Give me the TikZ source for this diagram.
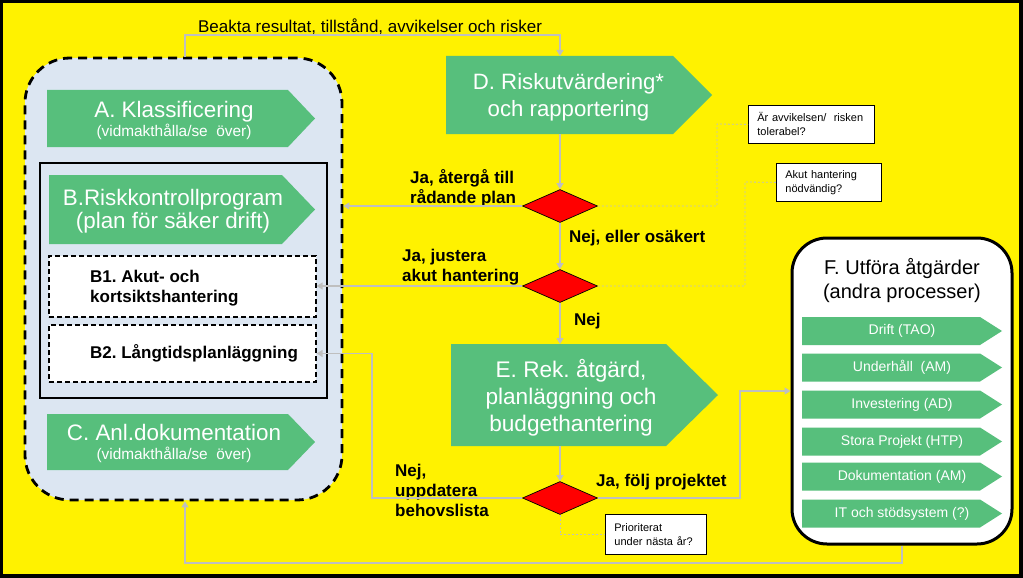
\documentclass[tikz,border=0pt]{standalone}
\usepackage{fontspec}
\setmainfont{Liberation Sans}
\usetikzlibrary{arrows.meta,shapes.geometric}
\definecolor{chevgreen}{HTML}{57BF7C}
\definecolor{planblue}{HTML}{DCE6F2}
\definecolor{flowgray}{HTML}{BFBFBF}
\frenchspacing
\newcommand*\fsz[2]{\fontsize{#1}{#2}\selectfont}
\newcommand*\chev[5]{\fill[chevgreen] (#1,#2) -- (#3,#2) -- (#5,{(#2+#4)/2}) -- (#3,#4) -- (#1,#4) -- cycle;}

\begin{document}
\begin{tikzpicture}[x=1pt,y=-1pt,
  flow/.style={flowgray,line width=1.4pt,-{Triangle[length=6pt,width=7pt]}},
  hint/.style={flowgray,line width=0.8pt,dash pattern=on 2pt off 2pt},
  decide/.style={diamond,draw=black,line width=0.7pt,fill=red,minimum width=75pt,minimum height=33pt,inner sep=0pt},
  steptext/.style={text=white,align=center,inner sep=0pt},
  answer/.style={font=\bfseries\fsz{17}{20},align=left,anchor=west,inner sep=0pt},
  note/.style={draw=black,line width=0.8pt,fill=white,anchor=north west,align=left,inner xsep=9pt,font=\fsz{11}{14}},
  subbox/.style={draw=black,line width=1.2pt,dash pattern=on 5pt off 3pt,fill=white,minimum width=267pt}]
\useasboundingbox (0,0) rectangle (1023,578);
\fill[yellow] (0,0) rectangle (1023,578);
\draw[line width=3.5pt] (1.5,1.5) rectangle (1021,576);

\node[font=\fsz{17}{20},inner sep=0pt] (watch) at (370,27) {Beakta resultat, tillstånd, avvikelser och risker};

\node[draw=black,line width=2.8pt,dash pattern=on 9pt off 6pt,rounded corners=45pt,fill=planblue,
      minimum width=317pt,minimum height=442pt,inner sep=0pt] (plan) at (183.5,279) {};
\node[draw=black,line width=2.2pt,minimum width=287pt,minimum height=235pt,inner sep=0pt] (riskprog) at (183.5,280.5) {};
\node[subbox,minimum height=61pt] (b1box) at (182.5,286.5) {};
\node[subbox,minimum height=57pt] (b2box) at (182.5,353.5) {};
\node[answer] (b1) at (90,288) {B1. Akut- och\\kortsiktshantering};
\node[answer] (b2) at (90,353.5) {B2. Långtidsplanläggning};

\chev{47}{90}{288}{147}{315}
\node[steptext,font=\fsz{15.4}{19}] (A) at (174,120) {{\fsz{22.4}{19}A. Klassificering}\\(vidmakthålla/se~ över)};
\chev{49}{175}{282}{244}{315}
\node[steptext,font=\fsz{22.4}{23}] (B) at (173,211) {B.Riskkontrollprogram\\(plan för säker drift)};
\chev{47}{414}{288}{470}{315}
\node[steptext,font=\fsz{15.4}{19}] (C) at (174,443) {{\fsz{22.4}{19}C. Anl.dokumentation}\\(vidmakthålla/se~ över)};
\chev{446}{56}{673}{134}{712}
\node[steptext,font=\fsz{22.2}{27}] (D) at (568.5,97) {D. Riskutvärdering*\\och rapportering};
\chev{451}{344}{666}{446}{718}
\node[steptext,font=\fsz{22.6}{27}] (E) at (571,398) {E. Rek. åtgärd,\\planläggning och\\budgethantering};
\coordinate (D-in) at (560,56);
\coordinate (D-out) at (560,134);
\coordinate (E-in) at (560,344);
\coordinate (E-out) at (560,446);

\node[draw=black,line width=3pt,rounded corners=35pt,fill=white,minimum width=220pt,minimum height=306pt,inner sep=0pt] (F) at (902,391) {};
\node[font=\fsz{20}{24},align=center,inner sep=0pt] (Ftitle) at (902,281) {F. Utföra åtgärder\\(andra processer)};
\foreach \yc/\job [count=\i] in {331/Drift (TAO),367.5/Underhåll~ (AM),404.5/Investering (AD),
    441.5/Stora Projekt (HTP),476.5/Dokumentation (AM),513.5/IT och stödsystem (?)} {
  \chev{802}{\yc-14}{980}{\yc+14}{1002}
  \node[steptext,font=\fsz{14}{16}] (job\i) at (902,\yc) {\job};
}

\node[decide] (q1) at (560,206) {};
\node[decide] (q2) at (560,286) {};
\node[decide] (q3) at (560,498) {};

\node[answer] (back) at (410,188) {Ja, återgå till\\rådande plan};
\node[answer] (unsure) at (569,238) {Nej, eller osäkert};
\node[answer] (adjust) at (402,267) {Ja, justera\\akut hantering};
\node[answer] (no) at (574,321) {Nej};
\node[answer] (update) at (395,490) {Nej,\\uppdatera\\behovslista};
\node[answer] (follow) at (596,482) {Ja, följ projektet};

\node[note,minimum width=126pt,minimum height=38pt,text width=108pt] (tol) at (748,105) {Är avvikelsen/~ risken\\tolerabel?};
\node[note,minimum width=105pt,minimum height=38pt,text width=87pt] (acute) at (776,163) {Akut hantering\\nödvändig?};
\node[note,minimum width=101pt,minimum height=40pt,text width=83pt] (prio) at (605,514) {Prioriterat\\under nästa år?};

\coordinate (top) at (185,35);
\coordinate (bottom) at (185,563);
\draw[flow] (top |- plan.north) -- (top) -| (D-in);
\draw[flow] (D-out) -- (q1.north);
\draw[flow] (q1.west) -- (q1.west -| plan.east);
\draw[flow] (q1.south) -- (q2.north);
\draw[flow] (q2.west) -- (q2.west -| b1box.east);
\draw[flow] (q2.south) -- (E-in);
\draw[flow] (E-out) -- (q3.north);
\draw[flow] (q3.west) -- (q3.west -| 372,0) |- (b2box.east);
\draw[flow] (q3.east) -- (q3.east -| 740,0) |- (F.west);
\draw[flow] (F.south) |- (bottom) -- (bottom |- plan.south);

\draw[hint] (q1.east) -| (717,124) -- (tol.west);
\draw[hint] (q2.east) -| (745,182) -- (acute.west);
\draw[hint] (q3.south) |- (prio.west);
\end{tikzpicture}
\end{document}
